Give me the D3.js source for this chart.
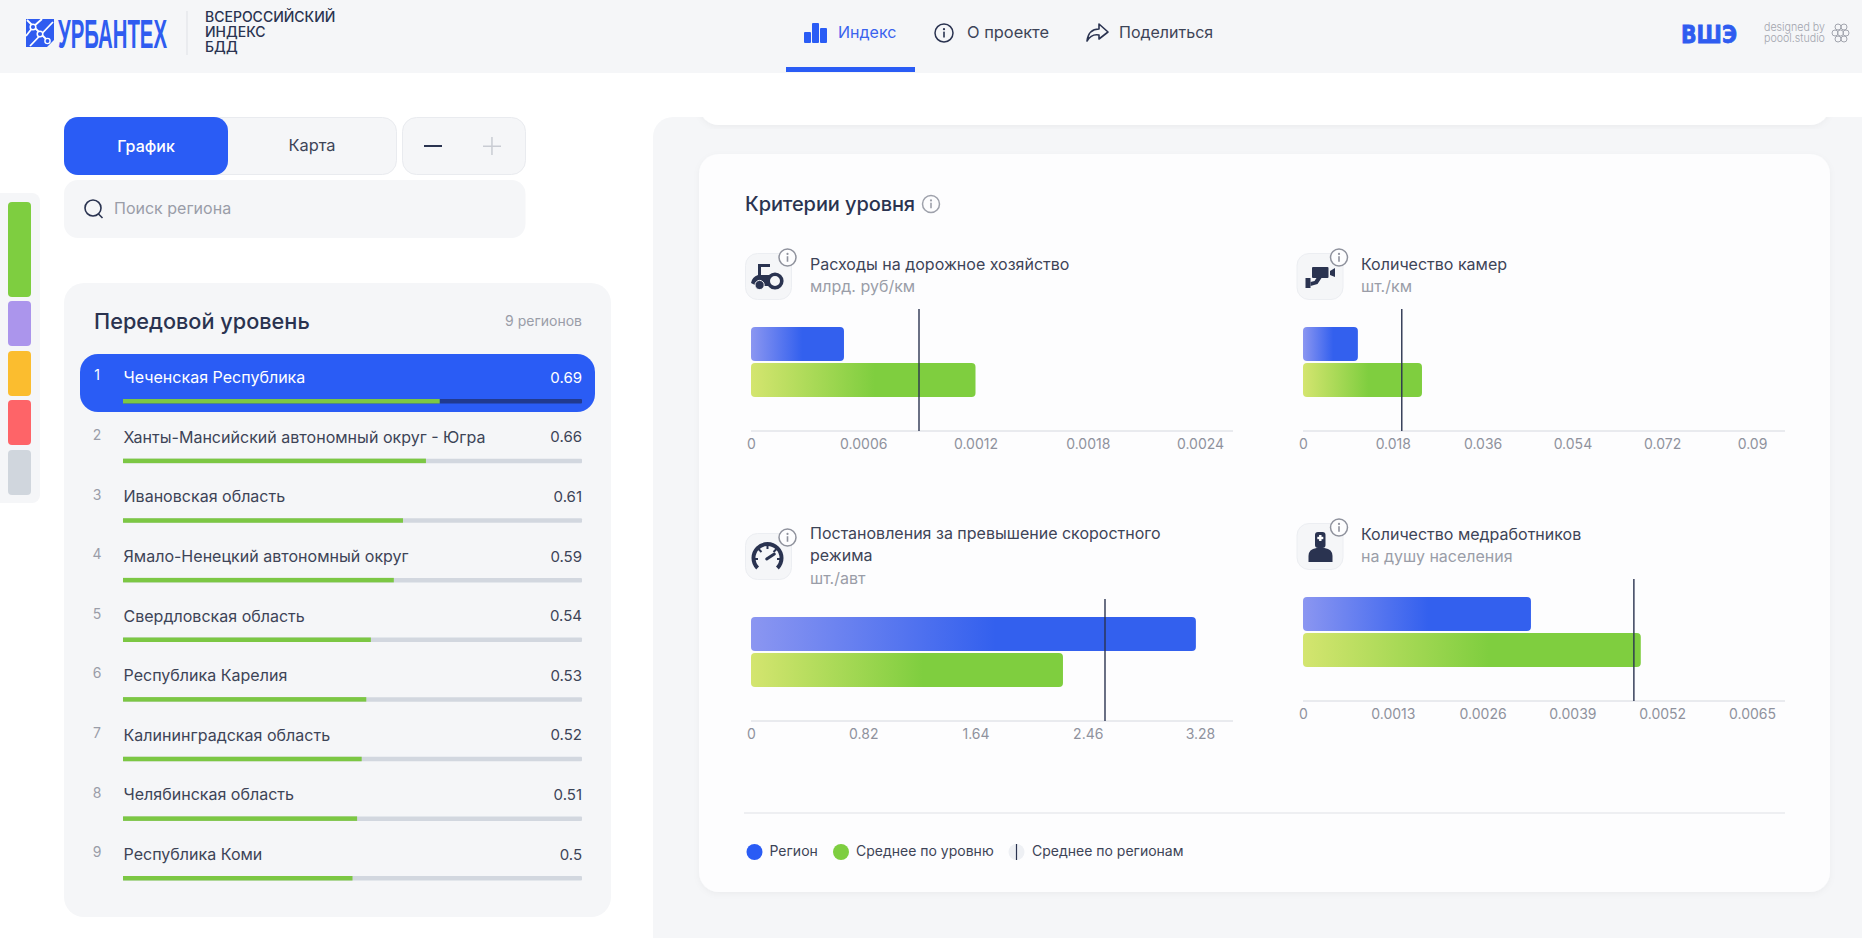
<!DOCTYPE html>
<html lang="ru">
<head>
<meta charset="utf-8">
<title>Всероссийский индекс БДД</title>
<script src="https://cdn.jsdelivr.net/npm/d3@7/dist/d3.min.js"></script>
<style>
    html, body { margin: 0; padding: 0; background: #fff; overflow: hidden; }
    svg { display: block; font-family: Inter, "Noto Sans", sans-serif; }
    .tick text { font-size: 14px; fill: #8f929d; font-family: Inter, sans-serif; }
</style>
</head>
<body>
<div id="chart"></div>
<script>
// ranking list
const regions = [
    "Чеченская Республика",
    "Ханты-Мансийский автономный округ - Югра",
    "Ивановская область",
    "Ямало-Ненецкий автономный округ",
    "Свердловская область",
    "Республика Карелия",
    "Калининградская область",
    "Челябинская область",
    "Республика Коми"
];
const scores = [0.69, 0.66, 0.61, 0.59, 0.54, 0.53, 0.52, 0.51, 0.5];
const levelColors = ["#7ece40", "#ab95ec", "#fbbd2f", "#fe6468", "#d0d6dd"];

// criteria small charts
const criteriaTitles = [
    ["Расходы на дорожное хозяйство"],
    ["Количество камер"],
    ["Постановления за превышение скоростного", "режима"],
    ["Количество медработников"]
];
const criteriaUnits = ["млрд. руб/км", "шт./км", "шт./авт", "на душу населения"];
const regionValues = [0.000497, 0.0110, 3.25, 0.0033];
const levelValues = [0.0012, 0.02385, 2.279, 0.00489];
const nationalValues = [0.000898, 0.0198, 2.586, 0.00479];
const tickLists = [
    [0, 0.0006, 0.0012, 0.0018, 0.0024],
    [0, 0.018, 0.036, 0.054, 0.072, 0.09],
    [0, 0.82, 1.64, 2.46, 3.28],
    [0, 0.0013, 0.0026, 0.0039, 0.0052, 0.0065]
];

const DARK = "#2a3350", TEXT = "#3d4457", GRAY = "#9a9da8", BLUE = "#2a5cf5", PANEL = "#f5f6f8";

const svg = d3.select("#chart").append("svg").attr("width", 1862).attr("height", 938);
const defs = svg.append("defs");

function addGradient(id, from, to) {
    let g = defs.append("linearGradient").attr("id", id);
    g.append("stop").attr("offset", "0%").attr("stop-color", from);
    g.append("stop").attr("offset", "55%").attr("stop-color", to);
    g.append("stop").attr("offset", "100%").attr("stop-color", to);
}
addGradient("gradBlue", "#8b96f1", "#3360ee");
addGradient("gradGreen", "#d4e56f", "#7fce3f");

let shadow = defs.append("filter").attr("id", "soft").attr("x", "-5%").attr("y", "-5%").attr("width", "110%").attr("height", "110%");
shadow.append("feDropShadow").attr("dx", 0).attr("dy", 2).attr("stdDeviation", 3).attr("flood-color", "#000").attr("flood-opacity", 0.04);

function rect(parent, x, y, w, h, r, fill) {
    return parent.append("rect").attr("x", x).attr("y", y).attr("width", w).attr("height", h).attr("rx", r).attr("fill", fill);
}
function label(parent, x, y, str, size, color, anchor, weight) {
    return parent.append("text").attr("x", x).attr("y", y).attr("dy", ".35em")
        .attr("font-size", size).attr("fill", color)
        .attr("text-anchor", anchor || "start").attr("font-weight", weight || 400)
        .text(str);
}
function infoIcon(parent, cx, cy, r, color, fill) {
    let g = parent.append("g").attr("transform", `translate(${cx},${cy})`);
    g.append("circle").attr("r", r).attr("fill", fill || "none").attr("stroke", color).attr("stroke-width", 1.5);
    g.append("rect").attr("x", -0.8).attr("y", -r * 0.15).attr("width", 1.6).attr("height", r * 0.65).attr("fill", color);
    g.append("circle").attr("cy", -r * 0.42).attr("r", 1.1).attr("fill", color);
}
// squeeze a text to a width without leaving its box wider than what is drawn
function fitWidth(sel, x, y, width) {
    let natural = sel.node().getComputedTextLength();
    sel.attr("transform", `translate(${x},${y}) scale(${width / natural},1)`);
    return sel;
}

// ---- left column controls ----
rect(svg, 64.5, 117.5, 332, 57, 14, PANEL).attr("stroke", "#e9ebef");
rect(svg, 64, 117, 164, 58, 14, BLUE);
label(svg, 146, 146, "График", 16, "#fff", "middle", 500);
label(svg, 312, 145, "Карта", 16.4, TEXT, "middle");
rect(svg, 402.5, 117.5, 123, 57, 14, PANEL).attr("stroke", "#e9ebef");
rect(svg, 424, 145, 18, 2, 0, DARK);
rect(svg, 483, 145.5, 18, 1.5, 0, "#c9ccd3");
rect(svg, 491.2, 137, 1.5, 18, 0, "#c9ccd3");
rect(svg, 64, 180, 461.5, 58, 14, PANEL);
svg.append("circle").attr("cx", 93).attr("cy", 208).attr("r", 8).attr("fill", "none").attr("stroke", DARK).attr("stroke-width", 1.6);
svg.append("line").attr("x1", 98.5).attr("y1", 214).attr("x2", 102.5).attr("y2", 218).attr("stroke", DARK).attr("stroke-width", 1.6);
label(svg, 114, 208, "Поиск региона", 16, GRAY);

// level switcher on the edge
rect(svg, -10, 193, 50, 310, 8, PANEL);
const levelTops = [202, 301, 351, 400, 450];
const levelBottoms = [297, 346, 396, 445, 495];
levelColors.forEach((c, i) => rect(svg, 8, levelTops[i], 23, levelBottoms[i] - levelTops[i], 4, c));

// ---- ranking panel ----
rect(svg, 64, 283, 547, 634, 20, PANEL);
label(svg, 94, 321, "Передовой уровень", 21.7, DARK, "start", 500);
label(svg, 582, 321, "9 регионов", 14, GRAY, "end");
rect(svg, 80, 354, 515, 58, 18, BLUE);

const rowY = d3.scaleLinear().domain([0, regions.length - 1]).range([377.4, 854.4]);
const scoreX = d3.scaleLinear().domain([0, 1]).range([123, 582]);

const rows = svg.selectAll(".row").data(regions).join("g").attr("class", "row")
    .attr("transform", (d, i) => `translate(0,${rowY(i)})`);
rows.append("text").attr("x", 97).attr("y", -2).attr("dy", ".35em").attr("text-anchor", "middle").attr("font-size", 14)
    .attr("fill", (d, i) => i === 0 ? "#fff" : GRAY).text((d, i) => i + 1);
rows.append("text").attr("x", 123.5).attr("dy", ".35em").attr("font-size", 16.05)
    .attr("fill", (d, i) => i === 0 ? "#fff" : TEXT).text(d => d);
rows.append("text").attr("x", 582).attr("dy", ".35em").attr("text-anchor", "end").attr("font-size", 15)
    .attr("fill", (d, i) => i === 0 ? "#fff" : TEXT).text((d, i) => scores[i]);
rows.append("rect").attr("x", scoreX(0)).attr("y", 21.6).attr("width", scoreX(1) - scoreX(0)).attr("height", 4.5)
    .attr("rx", 1).attr("fill", (d, i) => i === 0 ? "#213a8f" : "#d2d7df");
rows.append("rect").attr("x", scoreX(0)).attr("y", 21.6).attr("width", (d, i) => scoreX(scores[i]) - scoreX(0)).attr("height", 4.5)
    .attr("fill", "#7cc744");

// ---- right pane ----
rect(svg, 653, 117, 1240, 900, 20, PANEL);
rect(svg, 699, 60, 1131, 65, 20, "#fff").attr("filter", "url(#soft)");
rect(svg, 653, 73, 1209, 44, 0, "#fff");
rect(svg, 699, 154, 1131, 738, 20, "#fdfdfe").attr("filter", "url(#soft)");
label(svg, 745, 204, "Критерии уровня", 20, DARK, "start", 500).attr("letter-spacing", "-0.1");
infoIcon(svg, 931, 204, 8.5, "#9ea1ab");

const layouts = [
    { left: 745, top: 253, textLeft: 810, titleY: 264, barsTop: 327, lineTop: 309, axisY: 431 },
    { left: 1296.5, top: 253, textLeft: 1361, titleY: 264, barsTop: 327, lineTop: 309, axisY: 431 },
    { left: 745, top: 533, textLeft: 810, titleY: 533, barsTop: 617, lineTop: 599, axisY: 721 },
    { left: 1296.5, top: 523, textLeft: 1361, titleY: 534, barsTop: 597, lineTop: 579, axisY: 701 }
];

const drawIcon = [
    // tractor
    g => {
        g.append("path").attr("d", "M6 30 Q7 24 13 22 L13 11 L25 11 L25 14 L16 14 L16 22 L24 22 L27 27 L26 33 L12 33 Z").attr("fill", DARK);
        g.append("circle").attr("cx", 30).attr("cy", 28).attr("r", 6.8).attr("fill", "#f5f6f8").attr("stroke", DARK).attr("stroke-width", 3.6);
        g.append("circle").attr("cx", 14.6).attr("cy", 32).attr("r", 4.6).attr("fill", DARK).attr("stroke", "#f5f6f8").attr("stroke-width", 1);
    },
    // camera
    g => {
        rect(g, 15.5, 14, 16.5, 11, 1, DARK);
        g.append("path").attr("d", "M33.5 18 L38.5 15 L38.5 24 L33.5 22 Z").attr("fill", DARK);
        rect(g, 9, 25, 5, 10, 0, DARK);
        g.append("path").attr("d", "M14 33 L21 31 L25 25 L20 25 L18 28 L14 29 Z").attr("fill", DARK);
    },
    // speedometer
    g => {
        g.append("path").attr("d", "M12.6 35 A14 14 0 1 1 32.4 35").attr("fill", "none").attr("stroke", DARK).attr("stroke-width", 4);
        g.append("path").attr("d", "M21.7 26 L29.3 21").attr("stroke", DARK).attr("stroke-width", 3).attr("stroke-linecap", "round");
        g.append("path").attr("d", "M22.5 12 L22.5 16 M13.5 16 L16.5 19 M31.5 16 L28.5 19 M9.5 26 L13 26 M35.5 26 L32 26")
            .attr("stroke", DARK).attr("stroke-width", 2);
    },
    // medic
    g => {
        rect(g, 18.5, 9, 10.5, 16, 3, DARK);
        rect(g, 22.6, 12, 2.4, 6, 0, "#fff");
        rect(g, 20.8, 13.8, 6, 2.4, 0, "#fff");
        g.append("path").attr("d", "M12 39 L12 33 Q12 26 20 25 L28 25 Q36 26 36 33 L36 39 Z").attr("fill", DARK);
    }
];

function drawCriterion(i) {
    let cfg = layouts[i];

    // icon tile and headings
    let icon = svg.append("g").attr("transform", `translate(${cfg.left},${cfg.top})`);
    rect(icon, 0.5, 0.5, 46, 46, 12, PANEL).attr("stroke", "#eceef2");
    drawIcon[i](icon);
    infoIcon(svg, cfg.left + 42.5, cfg.top + 4.5, 8.5, "#8f929d", "#fdfdfe");

    criteriaTitles[i].forEach((t, k) => label(svg, cfg.textLeft, cfg.titleY + k * 22.5, t, 16, TEXT));
    label(svg, cfg.textLeft, cfg.titleY + criteriaTitles[i].length * 22.8, criteriaUnits[i], 16, GRAY);

    // chart
    let left = cfg.left === 745 ? 751 : 1303;
    let ticks = tickLists[i];
    let x = d3.scaleLinear().domain([0, ticks[ticks.length - 1]]).range([0, 449]);
    let chart = svg.append("g").attr("transform", `translate(${left},0)`);

    chart.append("line").attr("x1", 0).attr("x2", 482).attr("y1", cfg.axisY).attr("y2", cfg.axisY).attr("stroke", "#d5d8df");

    let axis = chart.append("g").attr("transform", `translate(0,${cfg.axisY})`)
        .call(d3.axisBottom(x).tickValues(ticks).tickSize(0).tickPadding(8).tickFormat(d => String(d)));
    axis.select(".domain").remove();

    rect(chart, 0, cfg.barsTop, x(regionValues[i]), 34, 4, "url(#gradBlue)");
    rect(chart, 0, cfg.barsTop + 36, x(levelValues[i]), 34, 4, "url(#gradGreen)");

    chart.append("line").attr("x1", x(nationalValues[i])).attr("x2", x(nationalValues[i]))
        .attr("y1", cfg.lineTop).attr("y2", cfg.axisY)
        .attr("stroke", DARK).attr("stroke-width", 1.4);
}
criteriaTitles.forEach((d, i) => drawCriterion(i));

// ---- legend ----
svg.append("line").attr("x1", 744).attr("x2", 1785).attr("y1", 813).attr("y2", 813).attr("stroke", "#dfe1e6");
svg.append("circle").attr("cx", 754.5).attr("cy", 852).attr("r", 8).attr("fill", BLUE);
label(svg, 769.5, 851, "Регион", 14, TEXT);
svg.append("circle").attr("cx", 841).attr("cy", 852).attr("r", 8).attr("fill", "#7ece40");
label(svg, 856, 851, "Среднее по уровню", 14, TEXT);
svg.append("circle").attr("cx", 1016.5).attr("cy", 852).attr("r", 8).attr("fill", "#eef0f4");
svg.append("line").attr("x1", 1016.5).attr("x2", 1016.5).attr("y1", 844).attr("y2", 860).attr("stroke", DARK).attr("stroke-width", 1.2);
label(svg, 1032, 851, "Среднее по регионам", 14, TEXT);

// ---- header, on top of everything ----
rect(svg, 0, 0, 1862, 73, 0, PANEL);

let logo = svg.append("g");
logo.append("path").attr("d", "M26 19 L46 19 L54 19 L54 26 L54 40 L47 47 L26 47 L26 40 Z").attr("fill", "#2f5cf0");
logo.append("path").attr("d", "M27 20 L46 39 M30 46 L53 22 M26 36 L33 27 M33 27 L42 19")
    .attr("stroke", "#fff").attr("stroke-width", 1.8).attr("fill", "none");
logo.append("circle").attr("cx", 33).attr("cy", 27).attr("r", 2.8).attr("fill", "#2f5cf0").attr("stroke", "#fff").attr("stroke-width", 1.5);
logo.append("circle").attr("cx", 40).attr("cy", 34).attr("r", 2.8).attr("fill", "#2f5cf0").attr("stroke", "#fff").attr("stroke-width", 1.5);
logo.append("circle").attr("cx", 47.5).attr("cy", 41).attr("r", 2.6).attr("fill", "#2f5cf0").attr("stroke", "#fff").attr("stroke-width", 1.4);
fitWidth(logo.append("text").attr("font-family", "'Liberation Sans Narrow', 'Liberation Sans'")
    .attr("font-weight", 700).attr("font-size", 40).attr("fill", "#2f5cf0").text("УРБАНТЕХ"), 58, 47.5, 109);

svg.append("line").attr("x1", 187).attr("x2", 187).attr("y1", 11).attr("y2", 55).attr("stroke", "#dfe1e6");
["ВСЕРОССИЙСКИЙ", "ИНДЕКС", "БДД"].forEach((t, i) => {
    svg.append("text").attr("x", 205).attr("y", 22 + i * 15)
        .attr("font-size", 14).attr("font-weight", 500).attr("fill", DARK).text(t);
});

// nav
[[804, 32, 43], [812, 23, 43], [820, 28, 43]].forEach(b => {
    rect(svg, b[0], b[1], 7, b[2] - b[1], 1, BLUE);
});
label(svg, 838, 32, "Индекс", 16, "#3a63ee");
rect(svg, 786, 67, 129, 5, 0, BLUE);
infoIcon(svg, 944, 33, 9, DARK);
label(svg, 967, 32, "О проекте", 16.4, TEXT);
svg.append("path").attr("d", "M1087 41 C1088 33 1092 29 1099 29 L1099 24 L1108 32 L1099 39 L1099 35 C1094 34 1090 36 1087 41 Z")
    .attr("fill", "none").attr("stroke", DARK).attr("stroke-width", 1.6).attr("stroke-linejoin", "round");
label(svg, 1119, 32, "Поделиться", 16, TEXT);

fitWidth(svg.append("text").attr("font-family", "'DejaVu Sans'").attr("font-weight", 700)
    .attr("font-size", 24).attr("fill", "#2f5cf0").attr("stroke", "#2f5cf0").attr("stroke-width", 0.8).text("ВШЭ"), 1681, 43, 56);
[["designed by", 31], ["poool.studio", 42]].forEach(c => {
    fitWidth(svg.append("text").attr("font-size", 11).attr("fill", "#a2a5ae").attr("font-weight", 300).text(c[0]), 1764, c[1], 61);
});
let poool = svg.append("g").attr("fill", "none").attr("stroke", "#a2a5ae").attr("stroke-width", 1);
[[1838, 27], [1844, 27], [1835, 33], [1840.5, 33], [1846, 33], [1838, 39], [1844, 39]].forEach(c => {
    poool.append("circle").attr("cx", c[0]).attr("cy", c[1]).attr("r", 3);
});
</script>
</body>
</html>
